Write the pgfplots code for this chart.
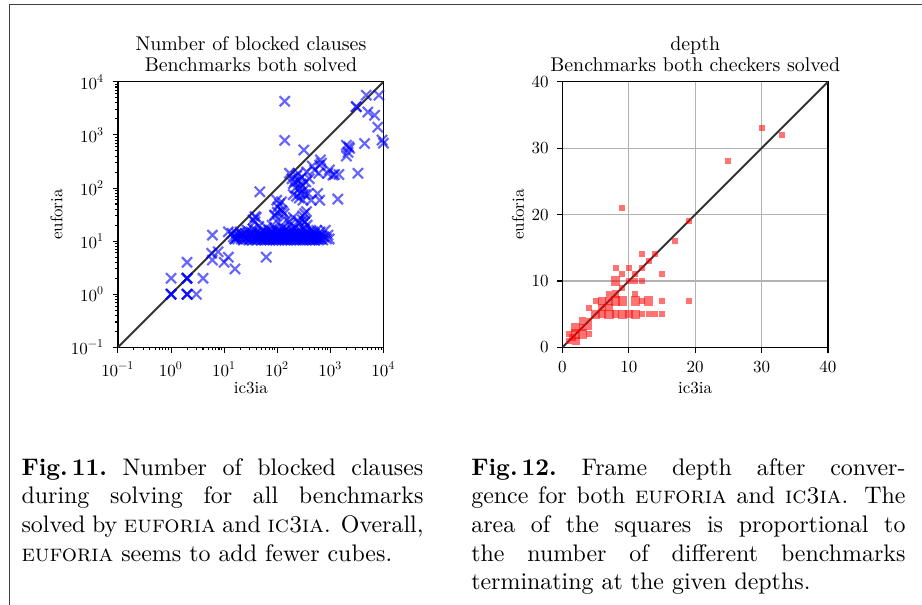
\documentclass[border=0pt]{standalone}
\usepackage{fontspec}
\usepackage{pgfplots}
\pgfplotsset{compat=1.18}
\newfontfamily\pf{lmroman10-regular}[Extension=.otf]

\pgfplotstableread{
x y
15 12
16 11
17 14
18 11
19 12.5
20 15
21 11
22 13
23 10.5
24 12
25 14
26 11
27 16
28 12
29 10.5
30 13
31 11
32 15
33 12
34 10.5
35 17
36 13
37 11
38 14
40 10.5
41 12
42 15
43 11
44 13
45 19
46 11
48 14
49 12
50 10.5
52 16
53 11
54 13
56 12
57 10.5
58 15
60 11
62 13
63 18
64 10.5
66 12
68 14
69 11
70 16
72 10.5
74 13
75 12
77 11
79 15
80 20
82 10.5
84 12
86 14
88 11
90 13
92 17
94 10.5
96 12
98 15
100 11
103 13
105 22
107 10.5
110 12
112 16
115 11
118 14
120 12
123 10.5
126 18
128 13
131 11
134 15
137 12
140 10.5
143 14
146 11
150 17
153 12
156 10.5
160 13
163 15
166 11
170 12
174 20
178 10.5
182 14
186 11
190 13
195 16
200 12
205 10.5
210 14
215 11
220 18
225 13
230 10.5
236 12
242 15
248 11
254 22
260 13
266 10.5
272 16
278 12
285 11
292 14
300 25
307 10.5
315 13
322 17
330 11
338 12
346 15
355 10.5
364 20
373 13
382 11
392 14
402 12
412 10.5
422 16
433 11
444 13
455 10.5
467 15
480 12
493 11
506 14
520 10.5
535 12
550 16
566 11
582 13
600 10.5
620 12
640 15
660 11
690 13
720 10.5
760 12
800 16
850 11
900 13
950 11
33 14
39 12
47 13
55 11
65 12
73 14
85 12
95 13
108 14
122 12
135 13
148 12
162 14
176 12
192 11
208 13
228 12
250 14
270 12
295 13
320 12
350 14
380 12
410 13
440 12
470 11
500 13
530 12
35 25
38 23
40 28
90 30
100 35
120 38
135 33
150 25
170 23
200 28
250 24
300 30
330 23
355 36
327 23
12 15
14 14
16 11
17 12
20 14
22 13
170 190
190 150
200 120
212 131
220 100
230 170
245 189
250 140
263 98
270 80
280 120
290 160
300 110
304 59
310 90
330 75
345 130
360 200
380 79
400 150
436 59
455 260
505 218
575 79
600 190
630 270
650 338
630 59
680 295
895 189
960 220
1120 176
1200 180
1450 180
1380 62
120 55
103 44
89 31
127 36
327 33
38 29
98 59
110 50
230 70
260 65
200 75
47 85
62 5
138 790
138 4300
316 520
2000 640
2300 560
2150 470
2000 400
2200 600
3300 190
3070 3400
3070 3400
4400 690
4730 5600
8200 5600
5070 2700
6800 2350
7800 1400
9400 800
10000 700
1 2
3 1
2 4
4 2
6 13
5.8 5.9
6 4.4
7.7 6.3
12 5
10 4
16 3
1 1
1 1
1 1
2 1
2 1
2 1
2 2
2 2
2 2
}\blocked

\pgfplotstableread{
x y
30 33
33 32
25 28
9 21
19 19
17 16
12 14
14 14
13 13
8 12
10 12
12 12
9 11
11 11
15 11
10 10
11 10
12 10
9 9
7 8
11 8
19 7
15 7
12 7
4 6
5 7
12 5
13 5
14 5
15 5
4 2
4 3
4 4
1 1
1 2
}\depthsmall

\pgfplotstableread{
x y
6 7
7 7
8 8
6 5
6 6
7 6
10 5
8 5
3 4
3 3
2 1
1.5 1.5
}\depthmid

\pgfplotstableread{
x y
8 10
9 7
8 7
11 7
13 7
5 5
7 5
9 5
11 5
2 3
2 2
3 2
}\depthbig

\begin{document}
\begin{tikzpicture}
\path[use as bounding box] (0,0) rectangle (385.4pt,252.5pt);
\draw[black!75, line width=0.45pt] (3.9pt,-1pt) -- (3.9pt,250.8pt) -- (390pt,250.8pt);

\pgfplotsset{
  every axis/.append style={
    scale only axis, width=111pt, height=111pt, anchor=south west,
    tick align=outside, tick pos=left,
    major tick length=2.2pt, minor tick length=1.3pt,
    axis line style={line width=0.5pt},
    every tick/.append style={black, line width=0.45pt},
    tick label style={font=\pf\fontsize{7.1}{8}\selectfont},
  },
  sq/.style={only marks, mark=square*, color=red,
    mark options={fill=red, fill opacity=0.55, draw opacity=0}},
}

\begin{axis}[at={(49.3pt,107.3pt)},
  xmode=log, ymode=log,
  xmin=0.1, xmax=10000, ymin=0.1, ymax=10000,
  xtick={0.1,1,10,100,1000,10000}, ytick={0.1,1,10,100,1000,10000},
  xticklabels={10\textsuperscript{−1},10\textsuperscript{0},10\textsuperscript{1},10\textsuperscript{2},10\textsuperscript{3},10\textsuperscript{4}},
  yticklabels={10\textsuperscript{−1},10\textsuperscript{0},10\textsuperscript{1},10\textsuperscript{2},10\textsuperscript{3},10\textsuperscript{4}}]
\addplot[only marks, mark=x, mark size=3pt, blue, opacity=0.6,
  mark options={line width=0.9pt}] table[x=x, y=y] {\blocked};
\addplot[black!80, line width=0.8pt] coordinates {(0.1,0.1) (10000,10000)};
\end{axis}

\begin{axis}[at={(235.1pt,107.3pt)},
  xmin=0, xmax=40, ymin=0, ymax=40,
  xtick={0,10,20,30,40}, ytick={0,10,20,30,40},
  xticklabels={0,10,20,30,40}, yticklabels={0,10,20,30,40},
  grid=major, major grid style={black!30, line width=0.45pt}]
\addplot[sq, mark size=1.25pt] table[x=x, y=y] {\depthsmall};
\addplot[sq, mark size=1.6pt] table[x=x, y=y] {\depthmid};
\addplot[sq, mark size=1.95pt] table[x=x, y=y] {\depthbig};
\addplot[black!80, line width=0.8pt] coordinates {(0,0) (40,40)};
\end{axis}

% titles and axis labels
\begin{scope}[font=\pf\fontsize{8.3}{10}\selectfont]
\node[anchor=base] at (104.9pt,231.2pt) {Number of blocked clauses};
\node[anchor=base] at (104.9pt,222.5pt) {Benchmarks both solved};
\node[anchor=base] at (290.6pt,231.2pt) {depth};
\node[anchor=base] at (290.6pt,222.5pt) {Benchmarks both checkers solved};
\end{scope}
\begin{scope}[font=\pf\fontsize{7.1}{8}\selectfont]
\node[anchor=base] at (104.9pt,88.1pt) {ic3ia};
\node[anchor=base] at (290.6pt,88.1pt) {ic3ia};
\node[anchor=base, rotate=90] at (26.1pt,162.8pt) {euforia};
\node[anchor=base, rotate=90] at (219pt,162.8pt) {euforia};
\end{scope}

% captions
\node[anchor=base west, inner sep=0pt, text width=168pt, align=justify] at (8.8pt,53.9pt)
  {\textbf{Fig.\,11.}\ Number of blocked clauses\linebreak during solving for all benchmarks\linebreak solved by \textsc{euforia} and \textsc{ic3ia}. Overall,\linebreak \textsc{euforia} seems to add fewer cubes.};
\node[anchor=base west, inner sep=0pt, text width=181.5pt, align=justify] at (196.8pt,53.9pt)
  {\textbf{Fig.\,12.}\ Frame depth after conver-\linebreak gence for both \textsc{euforia} and \textsc{ic3ia}. The\linebreak area of the squares is proportional to\linebreak the number of different benchmarks\linebreak terminating at the given depths.};
\end{tikzpicture}
\end{document}
